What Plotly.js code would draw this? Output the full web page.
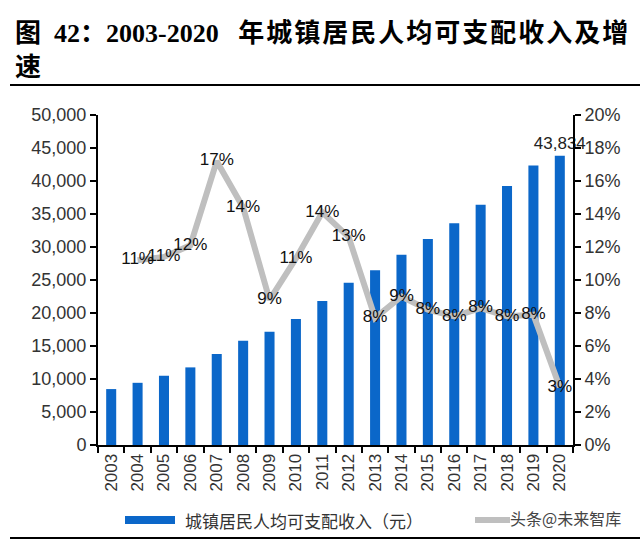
<!DOCTYPE html>
<html>
<head>
<meta charset="utf-8">
<script src="https://cdn.plot.ly/plotly-3.0.1.min.js"></script>
<style>html,body{margin:0;padding:0;background:#fff;}#chart{width:640px;height:540px;}</style>
</head>
<body>
<div id="chart"></div>
<script>
const years = ['2003','2004','2005','2006','2007','2008','2009','2010','2011','2012','2013','2014','2015','2016','2017','2018','2019','2020'];
const income = [8472, 9422, 10493, 11759, 13786, 15781, 17175, 19109, 21810, 24565, 26467, 28844, 31195, 33616, 36396, 39251, 42359, 43834];
const growthYears = ['2004','2005','2006','2007','2008','2009','2010','2011','2012','2013','2014','2015','2016','2017','2018','2019','2020'];
const growth = [0.112, 0.114, 0.121, 0.172, 0.144, 0.088, 0.113, 0.141, 0.126, 0.077, 0.090, 0.082, 0.078, 0.083, 0.078, 0.079, 0.035];
const growthLabels = ['11%','11%','12%','17%','14%','9%','11%','14%','13%','8%','9%','8%','8%','8%','8%','8%','3%'];
const incomeLabels = income.map((v, i) => i === income.length - 1 ? v.toLocaleString('en-US') : '');
const leftTicks = [0,5000,10000,15000,20000,25000,30000,35000,40000,45000,50000];
const rightTicks = [0,0.02,0.04,0.06,0.08,0.10,0.12,0.14,0.16,0.18,0.20];

const barName = '城镇居民人均可支配收入（元）';
const watermark = '头条@未来智库';
const titleText = '图&nbsp;&nbsp;42：2003-2020&nbsp;&nbsp;&nbsp;<span style="letter-spacing:2px">年城镇居民人均可支配收入及增</span><br>速';

const sansFont = 'Liberation Sans, Arial, sans-serif';
const cjk = 'Noto Sans CJK SC';

const traces = [
  {
    type: 'bar', x: years, y: income, name: barName,
    marker: {color: '#0B67C9'},
    text: incomeLabels, textposition: 'outside', cliponaxis: false, constraintext: 'none',
    textfont: {family: sansFont, size: 17, color: '#222'},
    showlegend: false, hoverinfo: 'x+y'
  },
  {
    type: 'scatter', mode: 'lines+text', x: growthYears, y: growth, yaxis: 'y2',
    line: {color: '#BFBFBF', width: 6},
    text: growthLabels, textposition: 'middle center', cliponaxis: false,
    textfont: {family: sansFont, size: 17, color: '#111'},
    showlegend: false, name: '增速'
  }
];

function px(x){ return (x - 98) / 475; }
function py(y){ return (445 - y) / 330; }

const layout = {
  width: 640, height: 540,
  margin: {l: 98, r: 67, t: 115, b: 95},
  paper_bgcolor: '#fff', plot_bgcolor: '#fff',
  bargap: 0.62,
  xaxis: {
    type: 'category', range: [-0.5, 17.5],
    tickangle: -90, ticks: 'outside', tickson: 'boundaries', ticklen: 6, tickwidth: 2, tickcolor: '#000',
    showline: true, linecolor: '#000', linewidth: 2, showgrid: false, zeroline: false,
    tickfont: {family: sansFont, size: 17, color: '#333'}
  },
  yaxis: {
    range: [0, 50000], tickvals: leftTicks, tickformat: ',d',
    ticks: 'outside', ticklen: 6, tickwidth: 2, tickcolor: '#000',
    showline: true, linecolor: '#000', linewidth: 2, showgrid: false, zeroline: false,
    tickfont: {family: sansFont, size: 18, color: '#333'}
  },
  yaxis2: {
    overlaying: 'y', side: 'right', range: [0, 0.2], tickvals: rightTicks, tickformat: '.0%',
    ticks: 'outside', ticklen: 6, tickwidth: 2, tickcolor: '#000',
    showline: true, linecolor: '#000', linewidth: 2, showgrid: false, zeroline: false,
    tickfont: {family: sansFont, size: 18, color: '#333'}
  },
  shapes: [
    {type: 'line', xref: 'paper', yref: 'paper', x0: px(10), x1: px(640), y0: py(85), y1: py(85), line: {color: '#000', width: 2}},
    {type: 'line', xref: 'paper', yref: 'paper', x0: px(10), x1: px(640), y0: py(538), y1: py(538), line: {color: '#000', width: 2}},
    {type: 'rect', xref: 'paper', yref: 'paper', x0: px(125), x1: px(175), y0: py(524), y1: py(516), fillcolor: '#0B67C9', line: {width: 0}},
    {type: 'line', xref: 'paper', yref: 'paper', x0: px(475), x1: px(510), y0: py(520), y1: py(520), line: {color: '#BFBFBF', width: 6}}
  ],
  annotations: [
    {xref: 'paper', yref: 'paper', x: px(13), y: py(16), xanchor: 'left', yanchor: 'top', align: 'left', showarrow: false,
     text: titleText, font: {family: 'Liberation Serif, ' + cjk, size: 26, color: '#000', weight: 'bold'}},
    {xref: 'paper', yref: 'paper', x: px(183), y: py(520), xanchor: 'left', yanchor: 'middle', showarrow: false,
     text: barName, font: {family: cjk, size: 17, color: '#333'}},
    {xref: 'paper', yref: 'paper', x: px(508), y: py(518), xanchor: 'left', yanchor: 'middle', showarrow: false,
     text: watermark, font: {family: cjk, size: 16, color: '#444'}}
  ]
};

Plotly.newPlot('chart', traces, layout, {displayModeBar: false, staticPlot: true});
</script>
</body>
</html>
